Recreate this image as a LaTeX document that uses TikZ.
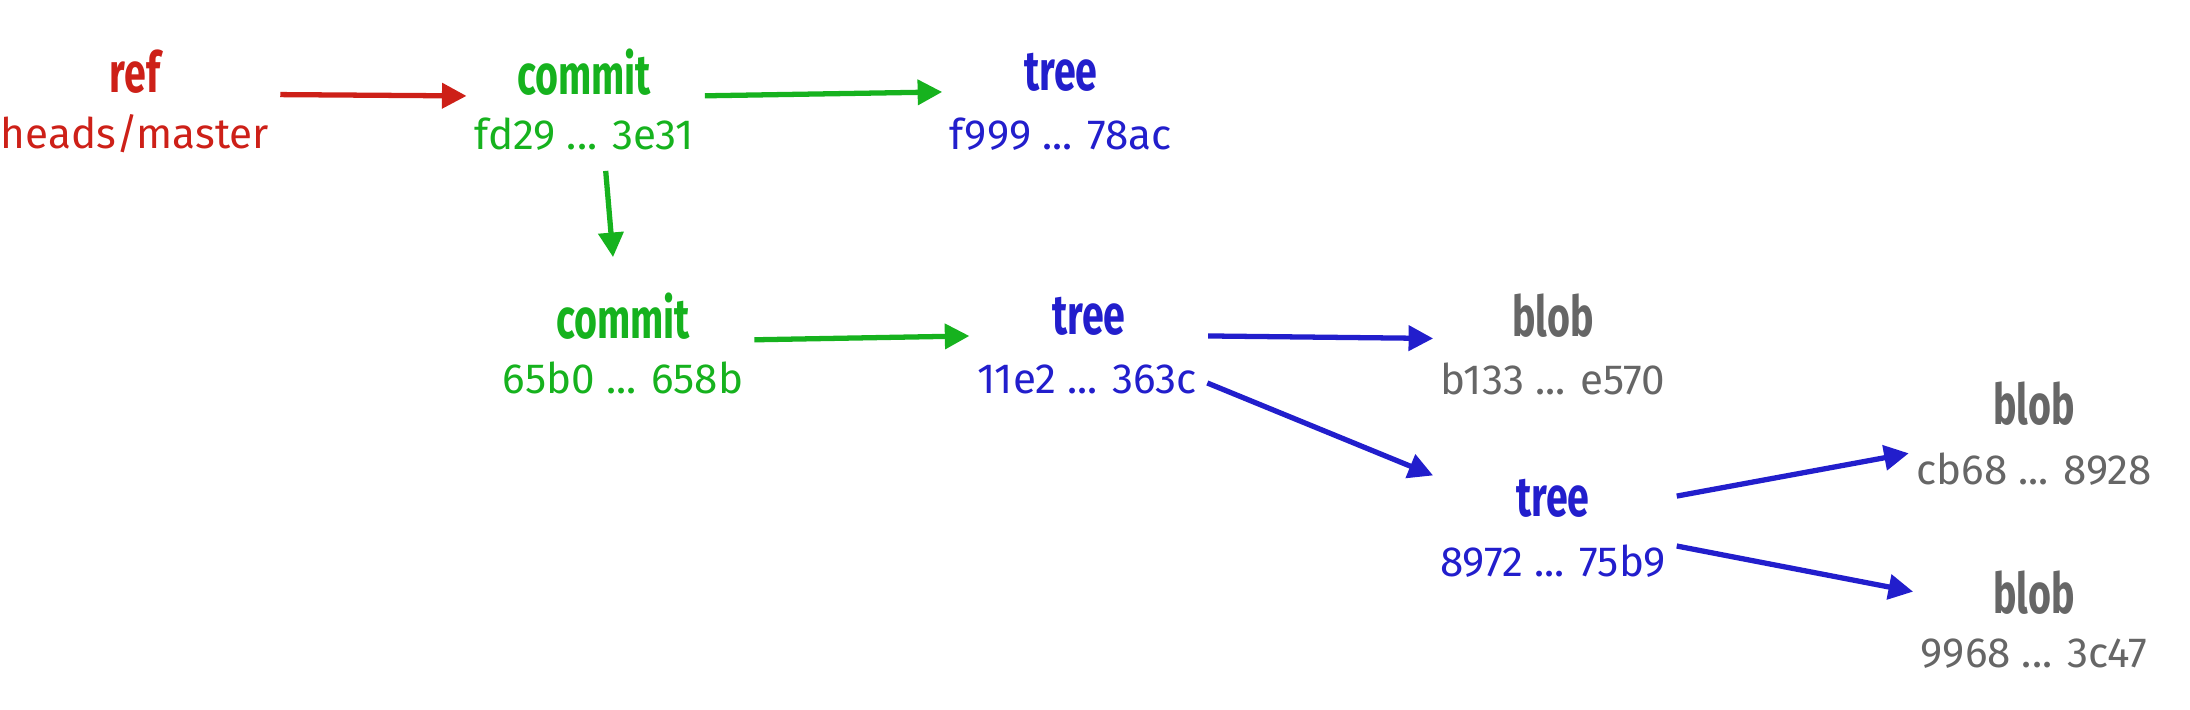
\documentclass[tikz,border=0pt]{standalone}
\usepackage{fontspec}
\setmainfont{Fira Sans}
\newfontfamily\namefont{Fira Sans}[FakeStretch=0.7]
\usetikzlibrary{arrows.meta}
\definecolor{refred}{RGB}{205,32,24}
\definecolor{commitgreen}{RGB}{22,178,30}
\definecolor{treeblue}{RGB}{34,30,204}
\definecolor{blobgray}{RGB}{102,102,102}
\tikzset{
  objname/.style={inner sep=0pt, font=\namefont\fontsize{16}{18}\selectfont\bfseries},
  objhash/.style={inner sep=0pt, font=\fontsize{12}{14}\selectfont},
  link/.style={-{Triangle[length=7pt,width=7pt]}, line width=1.5pt, shorten <=3pt, shorten >=2pt}
}

\begin{document}
\begin{tikzpicture}
\useasboundingbox (0,0) rectangle (21.9,7.1);
% ref
\node[objname, refred] (ref) at (1.35,6.38) {ref};
\node[objhash, refred] (refh) at (1.35,5.76) {heads/master};
% commits
\node[objname, commitgreen] (c1) at (5.84,6.38) {commit};
\node[objhash, commitgreen] (c1h) at (5.84,5.76) {fd29 ... 3e31};
\node[objname, commitgreen] (c2) at (6.23,3.94) {commit};
\node[objhash, commitgreen] (c2h) at (6.23,3.32) {65b0 ... 658b};
% trees
\node[objname, treeblue] (tree1) at (10.61,6.38) {tree};
\node[objhash, treeblue] (tree1h) at (10.61,5.76) {f999 ... 78ac};
\node[objname, treeblue] (tree2) at (10.89,3.94) {tree};
\node[objhash, treeblue] (tree2h) at (10.87,3.31) {11e2 ... 363c};
\node[objname, treeblue] (tree3) at (15.53,2.12) {tree};
\node[objhash, treeblue] (tree3h) at (15.53,1.49) {8972 ... 75b9};
% blobs
\node[objname, blobgray] (blob1) at (15.53,3.94) {blob};
\node[objhash, blobgray] (blob1h) at (15.53,3.31) {b133 ... e570};
\node[objname, blobgray] (blob2) at (20.34,3.06) {blob};
\node[objhash, blobgray] (blob2h) at (20.34,2.41) {cb68 ... 8928};
\node[objname, blobgray] (blob3) at (20.34,1.17) {blob};
\node[objhash, blobgray] (blob3h) at (20.34,0.56) {9968 ... 3c47};

\draw[link, refred] (ref.south -| refh.east) -- (c1.south -| c1h.west);
\draw[link, commitgreen] (c1.south -| c1h.east) -- (tree1.south -| tree1h.west);
\draw[link, commitgreen, shorten <=2mm, shorten >=3.5mm] ([xshift=2mm]c1h.south) -- ([xshift=-0.7mm]c2.north);
\draw[link, commitgreen] (c2.south -| c2h.east) -- (tree2.south -| tree2h.west);
\draw[link, treeblue] (tree2.south -| tree2h.east) -- (blob1.south -| blob1h.west);
\draw[link, treeblue] (tree2h.east) -- (tree3.north -| tree3h.west);
\draw[link, treeblue] (tree3 -| tree3h.east) -- (blob2h.north west);
\draw[link, treeblue] (tree3h.north east) -- (blob3 -| blob3h.west);
\end{tikzpicture}
\end{document}
